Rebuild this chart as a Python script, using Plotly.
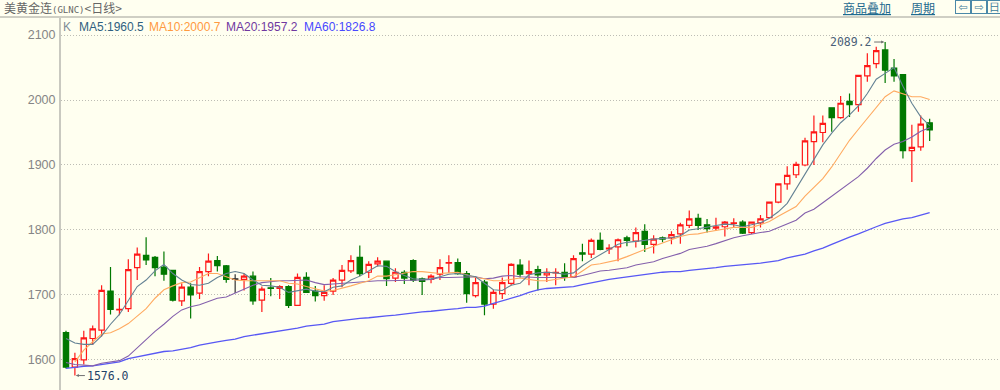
import plotly.graph_objects as go

# ---------- data ----------
opens = [1642,1589,1600,1633,1646,1706,1677,1679,1742,1761,1758,1743,1738,1691,1712,1703,1736,1753,1745,1725,
         1724,1729,1692,1711,1710,1713,1684,1727,1706,1699,1706,1723,1737,1758,1735,1748,1752,1726,1735,1753,
         1725,1724,1732,1749,1750,1733,1699,1720,1686,1702,1718,1746,1733,1739,1731,1734,1735,1728,1765,1763,
         1784,1771,1774,1788,1783,1798,1778,1788,1788,1794,1807,1818,1808,1803,1805,1810,1812,1796,1811,1819,
         1843,1871,1885,1900,1936,1950,1988,1973,1998,1993,2037,2056,2077,2049,2039,1922,1928,1965]
closes = [1589,1602,1634,1648,1707,1678,1678,1739,1763,1754,1742,1732,1692,1712,1700,1736,1752,1745,1724,1724,
          1729,1691,1709,1710,1713,1684,1727,1704,1699,1704,1723,1738,1753,1733,1747,1752,1725,1735,1726,1723,
          1721,1729,1742,1750,1733,1702,1719,1686,1704,1719,1747,1732,1736,1731,1735,1735,1727,1756,1763,1784,
          1770,1772,1785,1784,1796,1778,1786,1786,1793,1808,1817,1807,1802,1805,1812,1811,1795,1812,1817,1843,
          1871,1884,1901,1937,1951,1964,1973,1995,1993,2038,2053,2076,2046,2037,1922,1927,1963,1954]
highs = [1645,1611,1645,1653,1715,1743,1695,1755,1773,1789,1760,1767,1738,1718,1718,1743,1764,1760,1746,1732,
         1733,1736,1713,1726,1715,1715,1733,1735,1714,1715,1726,1746,1761,1776,1752,1758,1752,1741,1738,1755,
         1727,1732,1755,1761,1756,1737,1729,1723,1708,1727,1749,1755,1753,1745,1741,1741,1749,1761,1779,1787,
         1796,1778,1787,1791,1804,1809,1792,1790,1798,1811,1830,1825,1817,1819,1814,1818,1815,1813,1823,1844,
         1872,1898,1905,1942,1976,1976,1989,2006,2010,2038,2072,2082,2089.2,2063,2040,1962,1976,1971]
lows = [1587,1576,1593,1623,1636,1670,1669,1674,1723,1746,1729,1722,1690,1683,1664,1694,1729,1736,1719,1703,
        1707,1685,1674,1698,1694,1680,1683,1703,1690,1691,1700,1712,1734,1729,1726,1744,1714,1720,1717,1720,
        1700,1718,1723,1734,1731,1688,1696,1669,1679,1694,1715,1727,1715,1707,1720,1715,1722,1726,1752,1757,
        1769,1763,1752,1775,1773,1766,1764,1781,1778,1779,1803,1800,1796,1799,1790,1803,1794,1794,1804,1818,
        1841,1862,1880,1898,1900,1935,1951,1971,1974,1982,2028,2049,2026,2028,1910,1874,1922,1937]
ma5 = [1633,1626,1624,1624,1637,1655,1670,1691,1713,1723,1737,1747,1733,1723,1716,1715,1718,1727,1733,1736,
       1733,1723,1715,1714,1712,1704,1707,1709,1706,1705,1712,1714,1723,1729,1737,1745,1744,1736,1730,1725,
       1724,1725,1728,1732,1733,1731,1728,1718,1708,1707,1715,1718,1731,1734,1735,1734,1732,1734,1745,1754,
       1762,1770,1778,1781,1782,1784,1786,1787,1788,1791,1800,1802,1805,1807,1809,1808,1805,1808,1811,1818,
       1828,1841,1864,1887,1908,1931,1949,1965,1977,1991,2010,2032,2041,2050,2021,1995,1974,1960.5]
ma10 = [None,1597,1615,1628,1640,1642,1648,1656,1667,1679,1695,1708,1714,1719,1720,1726,1733,1733,1728,1723,
        1722,1722,1723,1723,1722,1718,1717,1713,1709,1706,1707,1710,1714,1718,1722,1729,1729,1731,1734,1736,
        1736,1735,1733,1734,1735,1731,1727,1725,1722,1722,1724,1726,1724,1722,1722,1724,1726,1728,1737,1746,
        1748,1751,1754,1759,1765,1770,1775,1780,1785,1790,1793,1794,1797,1799,1801,1804,1804,1804,1808,1813,
        1821,1828,1836,1852,1866,1879,1897,1918,1938,1955,1972,1989,2005,2014,2009,2005,2005,2000.7]
ma20 = [1596,1593,1592,1591,1595,1597,1599,1606,1619,1632,1644,1655,1667,1677,1682,1685,1690,1695,1697,1703,
        1710,1715,1719,1721,1722,1722,1723,1723,1719,1716,1717,1718,1719,1721,1722,1722,1722,1722,1722,1722,
        1723,1724,1727,1727,1727,1727,1728,1725,1726,1729,1730,1728,1727,1727,1727,1727,1727,1727,1730,1733,
        1737,1738,1740,1742,1746,1749,1751,1756,1760,1764,1770,1772,1775,1779,1784,1788,1791,1794,1796,1798,
        1804,1809,1815,1826,1832,1842,1852,1862,1872,1882,1895,1910,1923,1932,1936,1943,1952,1957.2]
ma60 = [1587,1589,1590,1591,1593,1596,1597,1602,1605,1608,1611,1613,1614,1616,1619,1623,1626,1628,1630,1632,
        1636,1638,1640,1642,1645,1647,1649,1652,1653,1655,1659,1661,1662,1664,1665,1667,1668,1669,1671,1673,
        1674,1675,1677,1678,1679,1681,1681,1683,1687,1691,1694,1699,1704,1708,1710,1711,1712,1713,1716,1719,
        1721,1724,1726,1728,1730,1731,1733,1735,1736,1736,1738,1739,1741,1742,1744,1745,1747,1748,1749,1751,
        1753,1757,1760,1763,1768,1772,1778,1784,1789,1794,1800,1805,1810,1814,1817,1819,1823,1826.8]
index = list(range(len(opens)))
doji_black = [19]
y_ticks = [1600, 1700, 1800, 1900, 2000, 2100]
legend_items = [("K", "#7f8c96"), ("MA5:1960.5", "#2f5f80"), ("MA10:2000.7", "#ff9a40"),
                ("MA20:1957.2", "#7038a0"), ("MA60:1826.8", "#4848ff")]

# ---------- layout constants ----------
W, H = 1000, 390
L, T = 61, 17
BG = "#FFFFF0"
RED, GREEN = "#FF1818", "#007800"
SANS = "Liberation Sans, Arial, sans-serif"
CJK = "Noto Sans CJK SC"
MONO = "DejaVu Sans Mono, monospace"
LINK = "#1f6a8f"

def px(x): return (x - L) / (W - L)
def py(y): return 1 - (y - T) / (H - T)

regular = [i for i in index if i not in doji_black]
def pick(arr, ids): return [arr[i] for i in ids]

fig = go.Figure()
fig.add_trace(go.Candlestick(
    x=regular, open=pick(opens, regular), high=pick(highs, regular),
    low=pick(lows, regular), close=pick(closes, regular),
    increasing=dict(line=dict(color=RED, width=1.2), fillcolor=BG),
    decreasing=dict(line=dict(color=GREEN, width=1.2), fillcolor=GREEN),
    whiskerwidth=0, showlegend=False, hoverinfo="skip"))
fig.add_trace(go.Candlestick(
    x=doji_black, open=pick(opens, doji_black), high=pick(highs, doji_black),
    low=pick(lows, doji_black), close=pick(closes, doji_black),
    increasing=dict(line=dict(color="#333333", width=1.2), fillcolor=BG),
    decreasing=dict(line=dict(color="#333333", width=1.2), fillcolor="#333333"),
    whiskerwidth=0, showlegend=False, hoverinfo="skip"))

for vals, color, w in [(ma60, "#5858f4", 1.3), (ma20, "#8460ac", 1.1),
                       (ma10, "#FFAA60", 1.1), (ma5, "#648294", 1.1)]:
    fig.add_trace(go.Scatter(x=index, y=vals, mode="lines", showlegend=False, hoverinfo="skip",
                             connectgaps=False, line=dict(color=color, width=w)))

ann = []
ann.append(dict(x=px(2), y=py(8), xref="paper", yref="paper", xanchor="left", yanchor="middle",
                showarrow=False, align="left",
                text='<span style="font-family:Noto Sans CJK SC;font-size:12px">美黄金连</span>'
                     '<span style="font-size:9px;font-family:DejaVu Sans Mono">(GLNC)</span>'
                     '<span style="font-family:Noto Sans CJK SC;font-size:12px">&lt;日线&gt;</span>',
                font=dict(color="#666666", family=CJK, size=12)))
ann.append(dict(x=px(867), y=py(8), xref="paper", yref="paper", showarrow=False, xanchor="center",
                yanchor="middle", text="<u>商品叠加</u>", font=dict(color=LINK, family=CJK, size=12)))
ann.append(dict(x=px(923), y=py(8), xref="paper", yref="paper", showarrow=False, xanchor="center",
                yanchor="middle", text="<u>周期</u>", font=dict(color=LINK, family=CJK, size=12)))
for cx, w, t in [(963, 14, "⇦"), (979, 14, "⇨"), (994, 12, "日")]:
    ann.append(dict(x=px(cx), y=py(7), xref="paper", yref="paper", showarrow=False, xanchor="center",
                    yanchor="middle", text=t, width=w, height=12, borderpad=0, bordercolor="#4a88a8",
                    borderwidth=1, font=dict(color="#3a7a9a", family="DejaVu Sans", size=11)))
for (t, c), x0 in zip(legend_items, [62, 78, 148, 225, 303]):
    ann.append(dict(x=px(x0), y=py(27), xref="paper", yref="paper", xanchor="left", yanchor="middle",
                    showarrow=False, text=t, xshift=-1, font=dict(color=c, family=SANS, size=12)))
hi_i = highs.index(max(highs))
lo_i = lows.index(min(lows))
ann.append(dict(x=hi_i, y=highs[hi_i], xref="x", yref="y", text=f"{highs[hi_i]:.1f}", showarrow=True,
                ax=-11, ay=0, xanchor="right", yanchor="middle", arrowhead=2, arrowsize=0.6, arrowwidth=1,
                standoff=1, arrowcolor="#707070", font=dict(color="#4a6078", family=MONO, size=11.5)))
ann.append(dict(x=lo_i, y=lows[lo_i], xref="x", yref="y", text=f"{lows[lo_i]:.1f}", showarrow=True,
                ax=10, ay=0, xanchor="left", yanchor="middle", arrowhead=2, arrowsize=0.6, arrowwidth=1,
                standoff=1, arrowcolor="#707070", font=dict(color="#1f4468", family=MONO, size=11.5)))

shapes = [
    dict(type="line", xref="paper", yref="paper", x0=-L / (W - L), x1=1, y0=1, y1=1,
         line=dict(color="#cfcfc4", width=2)),
]

fig.update_layout(
    width=W, height=H, autosize=False,
    margin=dict(l=L, r=0, t=T, b=0, pad=0),
    paper_bgcolor=BG, plot_bgcolor=BG,
    boxmode="overlay", boxgap=0.15,
    annotations=ann, shapes=shapes, hovermode=False,
    xaxis=dict(range=[-0.56, 104.9], visible=False, fixedrange=True,
               rangeslider=dict(visible=False), showgrid=False, zeroline=False),
    yaxis=dict(range=[1553.8, 2127.7], tickvals=y_ticks, ticks="outside", ticklen=1,
               tickcolor="rgba(0,0,0,0)", showgrid=True, griddash="1px,2px", gridcolor="#bdbdb5",
               gridwidth=1, showline=True, linecolor="#c9c9c0", linewidth=2, zeroline=False,
               fixedrange=True, tickfont=dict(color="#858585", family=SANS, size=12.5)),
)
fig.write_html("out.html", config=dict(displayModeBar=False),
               post_script="document.body.style.margin='0';document.body.style.overflow='hidden';")
